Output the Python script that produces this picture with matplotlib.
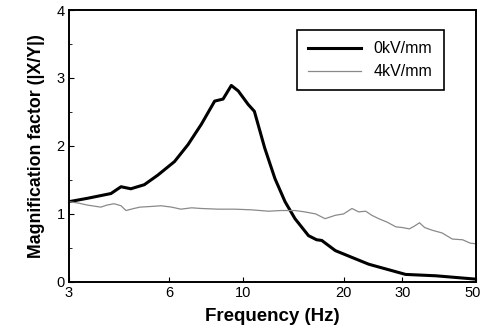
import matplotlib.pyplot as plt
from matplotlib.ticker import FixedLocator, NullFormatter, MultipleLocator
from matplotlib.transforms import ScaledTranslation

# 0 kV/mm
f0 = [3.0, 3.41, 4.01, 4.30, 4.6, 5.05, 5.54, 6.22, 6.83, 7.49, 8.21, 8.7, 9.21,
      9.66, 10.35, 10.8, 11.6, 12.45, 13.35, 14.3, 15.7, 16.6, 17.2, 18.9, 21.2,
      23.8, 26.8, 30.7, 37.8, 50.0]
m0 = [1.18, 1.23, 1.30, 1.40, 1.37, 1.43, 1.57, 1.77, 2.02, 2.32, 2.66, 2.69, 2.89,
      2.81, 2.61, 2.51, 1.97, 1.52, 1.18, 0.93, 0.68, 0.62, 0.61, 0.46, 0.36,
      0.26, 0.19, 0.11, 0.09, 0.04]

# 4 kV/mm
f4 = [3.0, 3.2, 3.41, 3.74, 3.9, 4.1, 4.3, 4.45, 4.7, 4.9, 5.3, 5.67, 6.1, 6.5,
      7.0, 7.49, 8.4, 9.44, 10.6, 11.9, 13.0, 14.3, 15.3, 16.5, 17.6, 18.9, 20.0,
      21.2, 22.2, 23.3, 24.3, 25.5, 27.0, 28.7, 30.0, 31.5, 32.6, 33.8, 35.0,
      36.9, 39.5, 42.4, 45.5, 48.0, 50.0]
m4 = [1.18, 1.16, 1.13, 1.10, 1.13, 1.15, 1.12, 1.05, 1.08, 1.10, 1.11, 1.12,
      1.10, 1.07, 1.09, 1.08, 1.07, 1.07, 1.06, 1.04, 1.05, 1.05, 1.03, 1.00,
      0.93, 0.98, 1.00, 1.08, 1.03, 1.04, 0.98, 0.93, 0.88, 0.81, 0.80, 0.78,
      0.82, 0.87, 0.80, 0.76, 0.72, 0.63, 0.62, 0.57, 0.56]

xticks = [3, 6, 10, 20, 30, 50]

plt.rcParams['font.family'] = ['Liberation Sans', 'DejaVu Sans']

fig = plt.figure(figsize=(4.82, 3.34), dpi=100)
ax = fig.add_axes([0.143, 0.156, 0.845, 0.814])

ax.plot(f0, m0, color='black', linewidth=2.2, label='0kV/mm')
ax.plot(f4, m4, color='#8a8a8a', linewidth=0.9, label='4kV/mm')

ax.set_xscale('log')
ax.set_xlim(3, 50)
ax.set_ylim(0, 4)
ax.xaxis.set_major_locator(FixedLocator(xticks))
ax.xaxis.set_minor_locator(FixedLocator([]))
ax.xaxis.set_minor_formatter(NullFormatter())
ax.set_xticklabels([str(t) for t in xticks])
ax.yaxis.set_major_locator(MultipleLocator(1))
ax.yaxis.set_minor_locator(MultipleLocator(0.5))
ax.tick_params(direction='in', labelsize=10.5, pad=3)
ax.tick_params(which='minor', direction='in', length=2.5)
for s in ax.spines.values():
    s.set_linewidth(1.4)

# keep the "50" label inside the figure
last = ax.get_xticklabels()[-1]
last.set_horizontalalignment('right')
last.set_transform(last.get_transform() + ScaledTranslation(3 / 72, 0, fig.dpi_scale_trans))

ax.set_xlabel('Frequency (Hz)', fontsize=13.5, fontweight='bold', labelpad=6)
ax.set_ylabel('Magnification factor (|X/Y|)', fontsize=12.8, fontweight='bold', labelpad=8)

leg = ax.legend(loc='upper right', bbox_to_anchor=(0.92, 0.926), borderaxespad=0,
                fontsize=11.5, fancybox=False, edgecolor='black', framealpha=1,
                handlelength=3.3, borderpad=0.7, labelspacing=0.5)
leg.get_frame().set_linewidth(1.2)

plt.savefig('out.png', dpi=100)
